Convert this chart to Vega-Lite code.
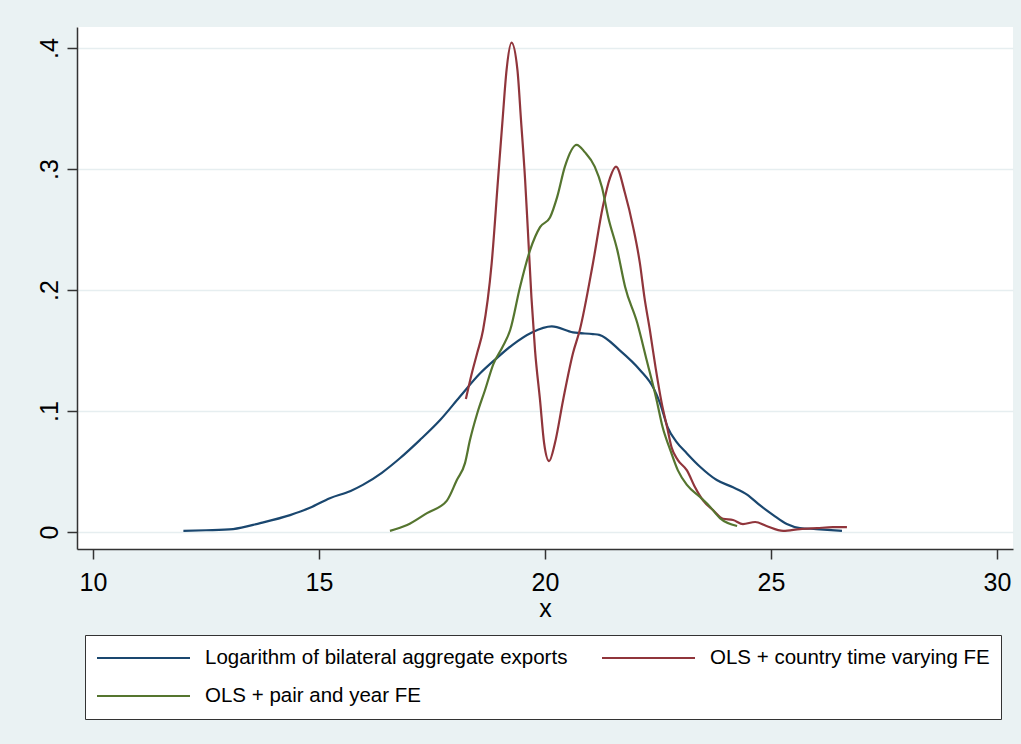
{
  "$schema": "https://vega.github.io/schema/vega-lite/v6.json",
  "width": 936,
  "height": 522,
  "autosize": {"type": "none"},
  "padding": {"left": 77, "top": 27, "right": 8, "bottom": 195},
  "background": "#eaf2f3",
  "config": {
    "view": {"fill": "white", "stroke": null},
    "font": "Liberation Sans"
  },
  "data": {
    "values": [
      {"series": "Logarithm of bilateral aggregate exports", "x": 12.0, "d": 0.001},
      {"series": "Logarithm of bilateral aggregate exports", "x": 12.5, "d": 0.0015},
      {"series": "Logarithm of bilateral aggregate exports", "x": 13.1, "d": 0.0025},
      {"series": "Logarithm of bilateral aggregate exports", "x": 13.7, "d": 0.0074},
      {"series": "Logarithm of bilateral aggregate exports", "x": 14.36, "d": 0.014},
      {"series": "Logarithm of bilateral aggregate exports", "x": 14.8, "d": 0.02},
      {"series": "Logarithm of bilateral aggregate exports", "x": 15.24, "d": 0.028},
      {"series": "Logarithm of bilateral aggregate exports", "x": 15.7, "d": 0.034},
      {"series": "Logarithm of bilateral aggregate exports", "x": 15.97, "d": 0.039},
      {"series": "Logarithm of bilateral aggregate exports", "x": 16.39, "d": 0.049},
      {"series": "Logarithm of bilateral aggregate exports", "x": 16.79, "d": 0.061},
      {"series": "Logarithm of bilateral aggregate exports", "x": 17.23, "d": 0.076},
      {"series": "Logarithm of bilateral aggregate exports", "x": 17.68, "d": 0.0926},
      {"series": "Logarithm of bilateral aggregate exports", "x": 18.12, "d": 0.112},
      {"series": "Logarithm of bilateral aggregate exports", "x": 18.56, "d": 0.131},
      {"series": "Logarithm of bilateral aggregate exports", "x": 18.94, "d": 0.144},
      {"series": "Logarithm of bilateral aggregate exports", "x": 19.29, "d": 0.155},
      {"series": "Logarithm of bilateral aggregate exports", "x": 19.71, "d": 0.165},
      {"series": "Logarithm of bilateral aggregate exports", "x": 20.15, "d": 0.17},
      {"series": "Logarithm of bilateral aggregate exports", "x": 20.62, "d": 0.165},
      {"series": "Logarithm of bilateral aggregate exports", "x": 21.06, "d": 0.1636},
      {"series": "Logarithm of bilateral aggregate exports", "x": 21.2, "d": 0.163},
      {"series": "Logarithm of bilateral aggregate exports", "x": 21.66, "d": 0.15},
      {"series": "Logarithm of bilateral aggregate exports", "x": 22.1, "d": 0.134},
      {"series": "Logarithm of bilateral aggregate exports", "x": 22.4, "d": 0.119},
      {"series": "Logarithm of bilateral aggregate exports", "x": 22.54, "d": 0.107},
      {"series": "Logarithm of bilateral aggregate exports", "x": 22.72, "d": 0.086},
      {"series": "Logarithm of bilateral aggregate exports", "x": 22.9, "d": 0.075},
      {"series": "Logarithm of bilateral aggregate exports", "x": 23.14, "d": 0.065},
      {"series": "Logarithm of bilateral aggregate exports", "x": 23.43, "d": 0.054},
      {"series": "Logarithm of bilateral aggregate exports", "x": 23.8, "d": 0.043},
      {"series": "Logarithm of bilateral aggregate exports", "x": 24.16, "d": 0.037},
      {"series": "Logarithm of bilateral aggregate exports", "x": 24.47, "d": 0.031},
      {"series": "Logarithm of bilateral aggregate exports", "x": 24.76, "d": 0.022},
      {"series": "Logarithm of bilateral aggregate exports", "x": 25.05, "d": 0.014},
      {"series": "Logarithm of bilateral aggregate exports", "x": 25.35, "d": 0.0066},
      {"series": "Logarithm of bilateral aggregate exports", "x": 25.64, "d": 0.0033},
      {"series": "Logarithm of bilateral aggregate exports", "x": 26.0, "d": 0.0025},
      {"series": "Logarithm of bilateral aggregate exports", "x": 26.57, "d": 0.001},

      {"series": "OLS + country time varying FE", "x": 18.25, "d": 0.11},
      {"series": "OLS + country time varying FE", "x": 18.38, "d": 0.131},
      {"series": "OLS + country time varying FE", "x": 18.5, "d": 0.148},
      {"series": "OLS + country time varying FE", "x": 18.63, "d": 0.167},
      {"series": "OLS + country time varying FE", "x": 18.82, "d": 0.222},
      {"series": "OLS + country time varying FE", "x": 18.96, "d": 0.291},
      {"series": "OLS + country time varying FE", "x": 19.06, "d": 0.34},
      {"series": "OLS + country time varying FE", "x": 19.15, "d": 0.382},
      {"series": "OLS + country time varying FE", "x": 19.26, "d": 0.4045},
      {"series": "OLS + country time varying FE", "x": 19.39, "d": 0.382},
      {"series": "OLS + country time varying FE", "x": 19.47, "d": 0.34},
      {"series": "OLS + country time varying FE", "x": 19.56, "d": 0.291},
      {"series": "OLS + country time varying FE", "x": 19.62, "d": 0.25},
      {"series": "OLS + country time varying FE", "x": 19.7, "d": 0.194},
      {"series": "OLS + country time varying FE", "x": 19.78, "d": 0.15},
      {"series": "OLS + country time varying FE", "x": 19.89, "d": 0.109},
      {"series": "OLS + country time varying FE", "x": 19.98, "d": 0.0736},
      {"series": "OLS + country time varying FE", "x": 20.09, "d": 0.0587},
      {"series": "OLS + country time varying FE", "x": 20.22, "d": 0.0736},
      {"series": "OLS + country time varying FE", "x": 20.4, "d": 0.109},
      {"series": "OLS + country time varying FE", "x": 20.62, "d": 0.148},
      {"series": "OLS + country time varying FE", "x": 20.77, "d": 0.167},
      {"series": "OLS + country time varying FE", "x": 21.06, "d": 0.222},
      {"series": "OLS + country time varying FE", "x": 21.28, "d": 0.269},
      {"series": "OLS + country time varying FE", "x": 21.44, "d": 0.293},
      {"series": "OLS + country time varying FE", "x": 21.57, "d": 0.302},
      {"series": "OLS + country time varying FE", "x": 21.77, "d": 0.28},
      {"series": "OLS + country time varying FE", "x": 21.95, "d": 0.252},
      {"series": "OLS + country time varying FE", "x": 22.1, "d": 0.222},
      {"series": "OLS + country time varying FE", "x": 22.2, "d": 0.194},
      {"series": "OLS + country time varying FE", "x": 22.32, "d": 0.167},
      {"series": "OLS + country time varying FE", "x": 22.45, "d": 0.135},
      {"series": "OLS + country time varying FE", "x": 22.58, "d": 0.107},
      {"series": "OLS + country time varying FE", "x": 22.7, "d": 0.087},
      {"series": "OLS + country time varying FE", "x": 22.8, "d": 0.07},
      {"series": "OLS + country time varying FE", "x": 22.94, "d": 0.0595},
      {"series": "OLS + country time varying FE", "x": 23.14, "d": 0.051},
      {"series": "OLS + country time varying FE", "x": 23.32, "d": 0.037},
      {"series": "OLS + country time varying FE", "x": 23.5, "d": 0.026},
      {"series": "OLS + country time varying FE", "x": 23.72, "d": 0.018},
      {"series": "OLS + country time varying FE", "x": 23.94, "d": 0.011},
      {"series": "OLS + country time varying FE", "x": 24.16, "d": 0.01},
      {"series": "OLS + country time varying FE", "x": 24.38, "d": 0.0066},
      {"series": "OLS + country time varying FE", "x": 24.65, "d": 0.0083},
      {"series": "OLS + country time varying FE", "x": 24.9, "d": 0.005},
      {"series": "OLS + country time varying FE", "x": 25.27, "d": 0.001},
      {"series": "OLS + country time varying FE", "x": 25.64, "d": 0.0025},
      {"series": "OLS + country time varying FE", "x": 26.02, "d": 0.0033},
      {"series": "OLS + country time varying FE", "x": 26.37, "d": 0.004},
      {"series": "OLS + country time varying FE", "x": 26.68, "d": 0.004},

      {"series": "OLS + pair and year FE", "x": 16.57, "d": 0.001},
      {"series": "OLS + pair and year FE", "x": 16.95, "d": 0.0058},
      {"series": "OLS + pair and year FE", "x": 17.39, "d": 0.0157},
      {"series": "OLS + pair and year FE", "x": 17.83, "d": 0.026},
      {"series": "OLS + pair and year FE", "x": 18.05, "d": 0.043},
      {"series": "OLS + pair and year FE", "x": 18.23, "d": 0.057},
      {"series": "OLS + pair and year FE", "x": 18.34, "d": 0.076},
      {"series": "OLS + pair and year FE", "x": 18.5, "d": 0.098},
      {"series": "OLS + pair and year FE", "x": 18.67, "d": 0.117},
      {"series": "OLS + pair and year FE", "x": 18.86, "d": 0.139},
      {"series": "OLS + pair and year FE", "x": 19.06, "d": 0.153},
      {"series": "OLS + pair and year FE", "x": 19.23, "d": 0.167},
      {"series": "OLS + pair and year FE", "x": 19.45, "d": 0.203},
      {"series": "OLS + pair and year FE", "x": 19.67, "d": 0.233},
      {"series": "OLS + pair and year FE", "x": 19.89, "d": 0.252},
      {"series": "OLS + pair and year FE", "x": 20.11, "d": 0.26},
      {"series": "OLS + pair and year FE", "x": 20.27, "d": 0.277},
      {"series": "OLS + pair and year FE", "x": 20.44, "d": 0.302},
      {"series": "OLS + pair and year FE", "x": 20.7, "d": 0.32},
      {"series": "OLS + pair and year FE", "x": 20.88, "d": 0.314},
      {"series": "OLS + pair and year FE", "x": 21.1, "d": 0.302},
      {"series": "OLS + pair and year FE", "x": 21.26, "d": 0.285},
      {"series": "OLS + pair and year FE", "x": 21.4, "d": 0.26},
      {"series": "OLS + pair and year FE", "x": 21.6, "d": 0.233},
      {"series": "OLS + pair and year FE", "x": 21.77, "d": 0.203},
      {"series": "OLS + pair and year FE", "x": 22.04, "d": 0.173},
      {"series": "OLS + pair and year FE", "x": 22.25, "d": 0.142},
      {"series": "OLS + pair and year FE", "x": 22.47, "d": 0.109},
      {"series": "OLS + pair and year FE", "x": 22.6, "d": 0.087},
      {"series": "OLS + pair and year FE", "x": 22.77, "d": 0.068},
      {"series": "OLS + pair and year FE", "x": 22.94, "d": 0.051},
      {"series": "OLS + pair and year FE", "x": 23.14, "d": 0.039},
      {"series": "OLS + pair and year FE", "x": 23.43, "d": 0.029},
      {"series": "OLS + pair and year FE", "x": 23.65, "d": 0.021},
      {"series": "OLS + pair and year FE", "x": 23.87, "d": 0.0115},
      {"series": "OLS + pair and year FE", "x": 24.25, "d": 0.005}
    ]
  },
  "mark": {"type": "line", "strokeWidth": 2.2, "interpolate": "monotone"},
  "encoding": {
    "x": {
      "field": "x",
      "type": "quantitative",
      "scale": {"domain": [9.646, 30.354], "nice": false, "zero": false},
      "axis": {
        "values": [10, 15, 20, 25, 30],
        "title": "x",
        "grid": false,
        "domainColor": "#333333",
        "domainWidth": 1.5,
        "tickColor": "#333333",
        "tickWidth": 1.5,
        "tickSize": 10,
        "labelFontSize": 25,
        "labelColor": "black",
        "labelPadding": 11,
        "labelFlush": false,
        "labelOverlap": false,
        "titleFontSize": 25,
        "titleFontWeight": "normal",
        "titleColor": "black",
        "titlePadding": 1
      }
    },
    "y": {
      "field": "d",
      "type": "quantitative",
      "scale": {"domain": [-0.014, 0.4174], "nice": false, "zero": false},
      "axis": {
        "values": [0, 0.1, 0.2, 0.3, 0.4],
        "labelExpr": "datum.value == 0 ? '0' : replace(format(datum.value, '.1f'), '0.', '.')",
        "title": null,
        "grid": true,
        "gridColor": "#e6eef0",
        "gridWidth": 1.5,
        "domainColor": "#333333",
        "domainWidth": 1.5,
        "tickColor": "#333333",
        "tickWidth": 1.5,
        "tickSize": 10,
        "labelFontSize": 25,
        "labelColor": "black",
        "labelAngle": -90,
        "labelAlign": "center",
        "labelBaseline": "alphabetic",
        "labelPadding": 10,
        "labelFlush": false,
        "labelOverlap": false
      }
    },
    "color": {
      "field": "series",
      "type": "nominal",
      "scale": {
        "domain": ["Logarithm of bilateral aggregate exports", "OLS + country time varying FE", "OLS + pair and year FE"],
        "range": ["#1a476f", "#90353b", "#55752f"]
      },
      "legend": {
        "title": null,
        "orient": "none",
        "legendX": 8,
        "legendY": 608,
        "direction": "horizontal",
        "columns": 2,
        "symbolType": "stroke",
        "symbolSize": 8649,
        "symbolStrokeWidth": 2,
        "clipHeight": 24,
        "rowPadding": 14,
        "columnPadding": 33,
        "labelOffset": 14,
        "labelFontSize": 20.5,
        "labelColor": "black",
        "labelLimit": 0,
        "padding": 11,
        "strokeColor": "#333333",
        "fillColor": "white"
      }
    }
  }
}
